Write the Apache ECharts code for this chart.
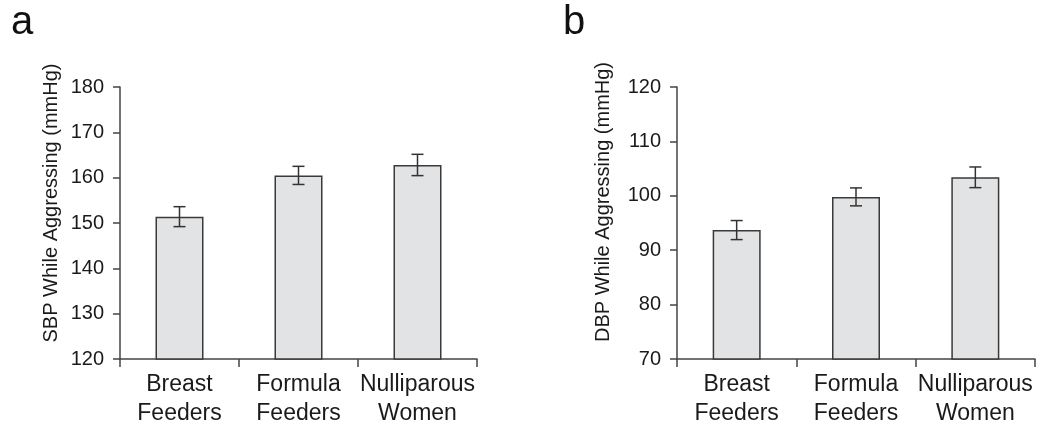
<!DOCTYPE html>
<html>
<head>
<meta charset="utf-8">
<script src="https://cdn.jsdelivr.net/npm/echarts@6/dist/echarts.min.js"></script>
<style>
html,body{margin:0;padding:0;background:#fff;}
#c{width:1050px;height:436px;}
</style>
</head>
<body>
<div id="c"></div>
<script>
// ---- data ----
var categories = ['Breast\nFeeders', 'Formula\nFeeders', 'Nulliparous\nWomen'];
var sbpMeans = [151.4, 160.5, 162.8];
var sbpErr = [2.2, 2.0, 2.35];
var dbpMeans = [93.7, 99.8, 103.4];
var dbpErr = [1.75, 1.65, 1.9];
var sbpTicks = { min: 120, max: 180, interval: 10 };
var dbpTicks = { min: 70, max: 120, interval: 10 };
var sbpTitle = 'SBP While Aggressing (mmHg)';
var dbpTitle = 'DBP While Aggressing (mmHg)';
var panelLetters = ['a', 'b'];

// ---- styling ----
var FONT = '"Liberation Sans", Arial, Helvetica, sans-serif';
var TXT = '#1a1a1a';
var AX = '#444';

function errData(means, errs) {
  return means.map(function (m, i) { return [i, m - errs[i], m + errs[i]]; });
}

function errRender(params, api) {
  var x = api.value(0);
  var lo = api.coord([x, api.value(1)]);
  var hi = api.coord([x, api.value(2)]);
  var hw = 6;
  var st = { stroke: '#333', lineWidth: 1.5 };
  return {
    type: 'group',
    children: [
      { type: 'line', shape: { x1: hi[0], y1: hi[1], x2: lo[0], y2: lo[1] }, style: st },
      { type: 'line', shape: { x1: hi[0] - hw, y1: hi[1], x2: hi[0] + hw, y2: hi[1] }, style: st },
      { type: 'line', shape: { x1: lo[0] - hw, y1: lo[1], x2: lo[0] + hw, y2: lo[1] }, style: st }
    ]
  };
}

function xAx(gi) {
  return {
    type: 'category', gridIndex: gi, data: categories,
    axisLine: { lineStyle: { color: AX, width: 1.5 } },
    axisTick: { show: true, length: 8, alignWithLabel: false, lineStyle: { color: AX, width: 1.5 } },
    axisLabel: { color: TXT, fontFamily: FONT, fontSize: 23, lineHeight: 29, margin: 11, interval: 0 },
    splitLine: { show: false }
  };
}
function yAx(gi, t) {
  return {
    type: 'value', gridIndex: gi, min: t.min, max: t.max, interval: t.interval,
    axisLine: { show: true, lineStyle: { color: AX, width: 1.5 } },
    axisTick: { show: true, length: 7, lineStyle: { color: AX, width: 1.5 } },
    axisLabel: { color: TXT, fontFamily: FONT, fontSize: 20, margin: 16 },
    splitLine: { show: false }
  };
}
var barStyle = { color: '#e2e3e5', borderColor: '#3a3a3a', borderWidth: 1.5 };

var chart = echarts.init(document.getElementById('c'));
chart.setOption({
  animation: false,
  backgroundColor: '#fff',
  grid: [
    { left: 120, right: 573, top: 87, bottom: 77 },
    { left: 677, right: 15, top: 87, bottom: 77 }
  ],
  xAxis: [xAx(0), xAx(1)],
  yAxis: [yAx(0, sbpTicks), yAx(1, dbpTicks)],
  graphic: [
    { type: 'text', left: 11, top: 3, style: { text: panelLetters[0], font: '40px ' + FONT, fill: '#111' } },
    { type: 'text', left: 563, top: 3, style: { text: panelLetters[1], font: '40px ' + FONT, fill: '#111' } },
    { type: 'text', x: 51, y: 203, rotation: Math.PI / 2,
      style: { text: sbpTitle, font: '20px ' + FONT, fill: TXT, textAlign: 'center', textVerticalAlign: 'middle' } },
    { type: 'text', x: 603, y: 202, rotation: Math.PI / 2,
      style: { text: dbpTitle, font: '20px ' + FONT, fill: TXT, textAlign: 'center', textVerticalAlign: 'middle' } }
  ],
  series: [
    { type: 'bar', xAxisIndex: 0, yAxisIndex: 0, data: sbpMeans, barWidth: 48, itemStyle: barStyle },
    { type: 'custom', xAxisIndex: 0, yAxisIndex: 0, data: errData(sbpMeans, sbpErr), renderItem: errRender, encode: { x: 0, y: [1, 2] }, z: 5 },
    { type: 'bar', xAxisIndex: 1, yAxisIndex: 1, data: dbpMeans, barWidth: 48, itemStyle: barStyle },
    { type: 'custom', xAxisIndex: 1, yAxisIndex: 1, data: errData(dbpMeans, dbpErr), renderItem: errRender, encode: { x: 0, y: [1, 2] }, z: 5 }
  ]
});
</script>
</body>
</html>
